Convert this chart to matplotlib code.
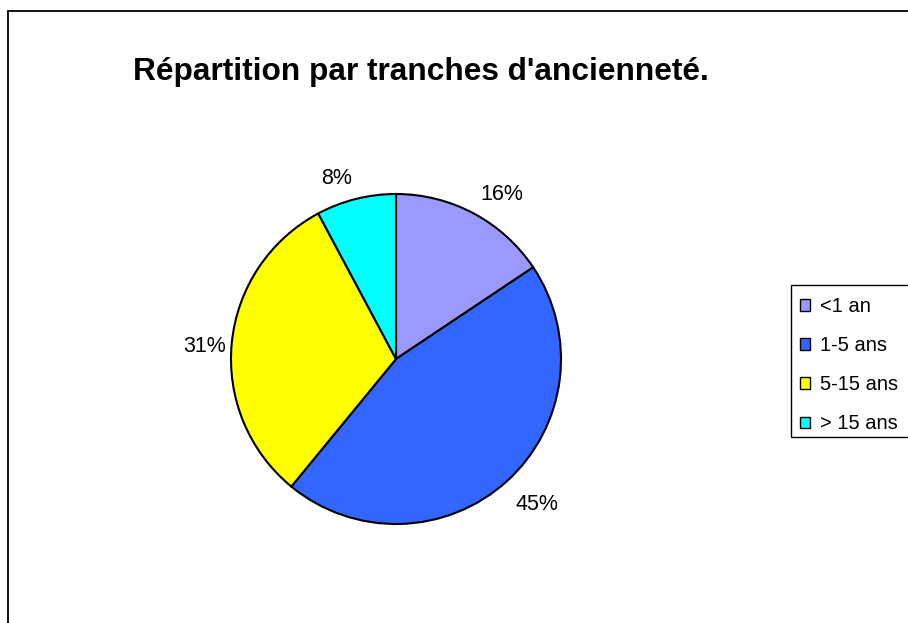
import matplotlib.pyplot as plt
from matplotlib.patches import Rectangle
from matplotlib.transforms import offset_copy
import numpy as np

plt.rcParams['font.family'] = ['Liberation Sans', 'DejaVu Sans']

# Chart data
categories = ['<1 an', '1-5 ans', '5-15 ans', '> 15 ans']
counts = [10, 29, 20, 5]
colors = ['#9999FF', '#3366FF', '#FFFF00', '#00FFFF']
title = "Répartition par tranches d'ancienneté."

W, H = 908, 623
fig = plt.figure(figsize=(W / 100, H / 100), dpi=100)

# Outer chart-area border (runs off the right and bottom edges)
fig.patches.append(Rectangle((8 / W, -0.1), 1.2, 1 - 11 / H + 0.1,
                             transform=fig.transFigure, fill=False,
                             edgecolor='black', linewidth=1.3))

# Pie axes: centre (396, 359), radius 165 px
cx, cy, r = 396, 359, 165
ax = fig.add_axes([(cx - r) / W, (H - cy - r) / H, 2 * r / W, 2 * r / H])
wedges = ax.pie(counts, colors=colors, startangle=90, counterclock=False,
                wedgeprops=dict(edgecolor='black', linewidth=1.5))[0]

# Percent labels just outside the pie, anchored by their nearest corner
lbl_tr = offset_copy(ax.transData, fig=fig, x=0, y=-4, units='dots')
total = sum(counts)
ang = 90.0
for c in counts:
    span = 360.0 * c / total
    mid = np.deg2rad(ang - span / 2)
    ang -= span
    cs, sn = np.cos(mid), np.sin(mid)
    ha = 'left' if cs > 0.15 else ('right' if cs < -0.15 else 'center')
    va = 'bottom' if sn > 0.15 else ('top' if sn < -0.15 else 'center')
    dist = 1.03 + 0.06 * abs(sn)
    ax.text(dist * cs, dist * sn, f"{100 * c / total:.0f}%", transform=lbl_tr,
            ha=ha, va=va, fontsize=15.5, clip_on=False)
ax.set_xlim(-1, 1)
ax.set_ylim(-1, 1)
ax.set_aspect('equal')
ax.axis('off')

fig.text(421 / W, 1 - 72 / H, title, ha='center', va='center',
         fontsize=22.8, fontweight='bold')

# Legend box (cut by the right edge like the original)
fig.patches.append(Rectangle((791 / W, 1 - 437 / H), 200 / W, 152 / H,
                             transform=fig.transFigure, fill=False,
                             edgecolor='black', linewidth=1.0))
leg = fig.legend(wedges, categories, loc='upper left',
                 bbox_to_anchor=(800 / W, 1 - 297 / H),
                 fontsize=14.5, frameon=False,
                 handlelength=0.5, handleheight=0.5, handletextpad=0.5,
                 labelspacing=1.0, borderpad=0, borderaxespad=0)
for h in leg.legend_handles:
    h.set_edgecolor('black')
    h.set_linewidth(1.0)

fig.savefig('out.png', dpi=100)
